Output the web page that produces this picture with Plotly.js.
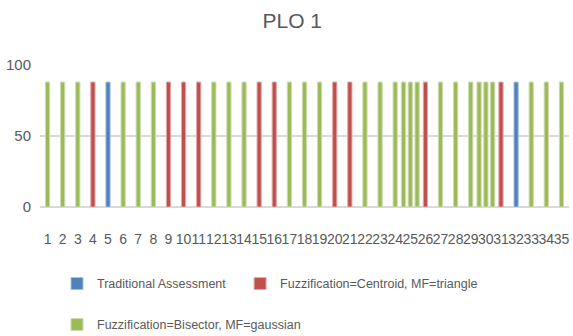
<!DOCTYPE html>
<html>
<head>
<meta charset="utf-8">
<script src="https://cdn.plot.ly/plotly-3.0.1.min.js"></script>
<style>
  html, body { margin: 0; padding: 0; background: #ffffff; }
  #chart { width: 573px; height: 336px; }
</style>
</head>
<body>
<div id="chart"></div>
<script>
// Student numbers along the x axis
const students = ['1','2','3','4','5','6','7','8','9','10','11','12','13','14','15','16','17','18',
  '19','20','21','22','23','24','25','26','27','28','29','30','31','32','33','34','35'];

// PLO 1 attainment per student, one array per assessment method (null = no bar)
const traditional = [null,null,null,null,88,null,null,null,null,null,null,null,null,null,null,null,null,null,
  null,null,null,null,null,null,null,null,null,null,null,null,null,88,null,null,null];
const centroidTriangle = [null,null,null,88,null,null,null,null,88,88,88,null,null,null,88,88,null,null,
  null,88,88,null,null,null,null,88,null,null,null,null,88,null,null,null,null];
const bisectorGaussian = [88,88,88,null,null,88,88,88,null,null,null,88,88,88,null,null,88,88,
  88,null,null,88,88,88,88,null,88,88,88,88,null,null,88,88,88];
// Students 25 and 30 carry two additional bisector/gaussian bars beside the main one
const bisectorExtraLeft = [null,null,null,null,null,null,null,null,null,null,null,null,null,null,null,null,null,null,
  null,null,null,null,null,null,88,null,null,null,null,88,null,null,null,null,null];
const bisectorExtraRight = [null,null,null,null,null,null,null,null,null,null,null,null,null,null,null,null,null,null,
  null,null,null,null,null,null,88,null,null,null,null,88,null,null,null,null,null];

const yTicks = [0, 50, 100];

const FONT = '"Liberation Sans", Arial, sans-serif';
const BLUE = '#4F81BD', RED = '#C0504D', GREEN = '#9BBB59';
const BAR_W = 0.28;

function barTrace(name, values, fill, edge, extra) {
  return Object.assign({
    type: 'bar',
    name: name,
    x: students,
    y: values,
    width: BAR_W,
    marker: { color: fill, line: { color: edge, width: 1 } },
    hoverinfo: 'x+y+name'
  }, extra || {});
}

const data = [
  barTrace('Traditional Assessment', traditional, BLUE, '#a7c0de', { legend: 'legend' }),
  barTrace('Fuzzification=Centroid, MF=triangle', centroidTriangle, RED, '#e3a9a7', { legend: 'legend2' }),
  barTrace('Fuzzification=Bisector, MF=gaussian', bisectorGaussian, GREEN, '#cddcaf', { legend: 'legend3' }),
  barTrace('Fuzzification=Bisector, MF=gaussian', bisectorExtraLeft, GREEN, '#cddcaf',
    { legend: 'legend3', showlegend: false, offset: -0.45 - BAR_W / 2 }),
  barTrace('Fuzzification=Bisector, MF=gaussian', bisectorExtraRight, GREEN, '#cddcaf',
    { legend: 'legend3', showlegend: false, offset: 0.45 - BAR_W / 2 })
];

// Legends are placed in container coordinates so they never resize the plot area
function legendAt(x, y) {
  return {
    orientation: 'h',
    xref: 'container', yref: 'container',
    x: x, xanchor: 'left',
    y: y, yanchor: 'middle',
    font: { family: FONT, size: 12.5, color: '#595959' },
    bgcolor: 'rgba(0,0,0,0)'
  };
}

const layout = {
  width: 573,
  height: 336,
  margin: { l: 40, r: 4, t: 65, b: 129, autoexpand: false },
  paper_bgcolor: '#ffffff',
  plot_bgcolor: '#ffffff',
  barmode: 'overlay',
  font: { family: FONT, color: '#595959' },
  title: {
    text: 'PLO 1',
    font: { family: FONT, size: 21, color: '#595959' },
    x: 0.51, xanchor: 'center',
    y: 0.94, yanchor: 'middle'
  },
  xaxis: {
    type: 'category',
    range: [-0.5, 34.5],
    tickmode: 'linear',
    dtick: 1,
    automargin: false,
    showgrid: false,
    showline: false,
    zeroline: false,
    ticks: '',
    tickangle: 0,
    ticklabelstandoff: 22,
    tickfont: { family: FONT, size: 14, color: '#595959' },
    fixedrange: true
  },
  yaxis: {
    range: [0, 100],
    tickvals: yTicks,
    ticktext: yTicks.map(String),
    automargin: false,
    showgrid: true,
    gridcolor: '#d9d9d9',
    gridwidth: 1.5,
    zeroline: true,
    zerolinecolor: '#d9d9d9',
    zerolinewidth: 2,
    showline: false,
    ticks: '',
    ticklabelstandoff: 8,
    tickfont: { family: FONT, size: 15, color: '#595959' },
    fixedrange: true
  },
  legend: legendAt(0.0995, 0.155),
  legend2: legendAt(0.419, 0.155),
  legend3: legendAt(0.0995, 0.033),
  showlegend: true
};

Plotly.newPlot('chart', data, layout, { displayModeBar: false, staticPlot: true });
</script>
</body>
</html>
